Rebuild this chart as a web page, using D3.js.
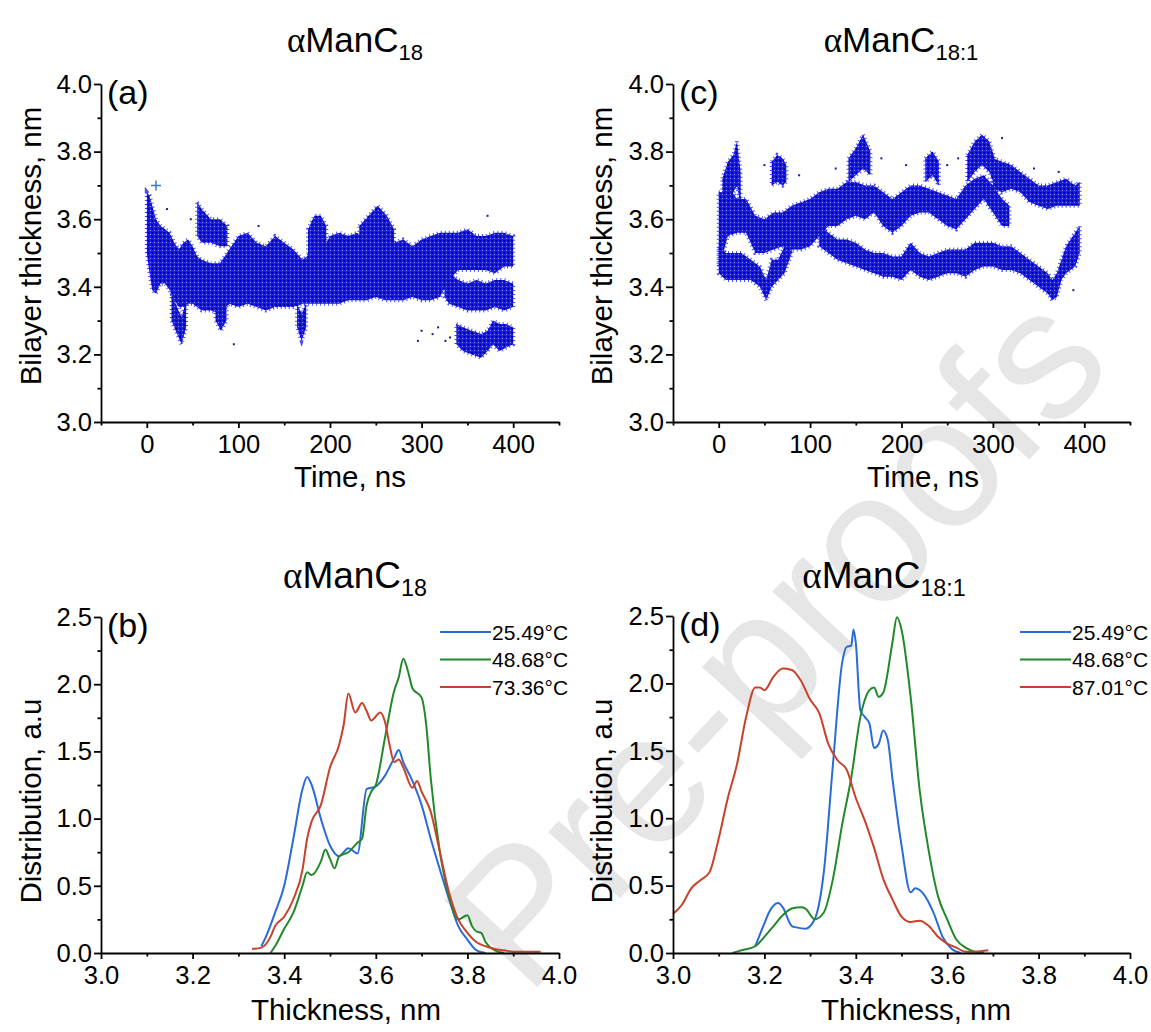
<!DOCTYPE html>
<html>
<head>
<meta charset="utf-8">
<script src="https://cdn.jsdelivr.net/npm/d3@7"></script>
<style>
  body { margin: 0; background: #fff; }
  text { font-family: "Liberation Sans", Arial, sans-serif; fill: #000; }
  .ax path, .ax line { stroke: #000; stroke-width: 1.8; }
  .ax text { font-size: 25.6px; font-family: "Liberation Sans", Arial, sans-serif; }
</style>
</head>
<body>
<svg id="chart" width="1151" height="1032"></svg>
<script>
// ---- panel (a): thickness vs time, bands of the point cloud [t, low, high]
var aMain = [[0,3.50,3.68],[3,3.44,3.67],[6,3.39,3.64],[10,3.38,3.60],[15,3.41,3.58],[20,3.41,3.57],
  [25,3.39,3.56],[30,3.36,3.53],[35,3.34,3.51],[40,3.34,3.53],[45,3.35,3.54],[50,3.35,3.52],[55,3.34,3.49],
  [60,3.33,3.48],[70,3.33,3.47],[80,3.32,3.47],[90,3.35,3.51],[100,3.34,3.55],[110,3.35,3.56],[120,3.34,3.53],
  [130,3.33,3.52],[140,3.34,3.55],[150,3.34,3.53],[160,3.34,3.51],[170,3.35,3.48],[180,3.35,3.50],[190,3.35,3.50],
  [200,3.35,3.55],[210,3.35,3.56],[220,3.36,3.55],[230,3.36,3.56],[240,3.36,3.53],[250,3.37,3.54],[260,3.36,3.55],
  [270,3.36,3.53],[280,3.36,3.54],[290,3.37,3.52],[300,3.36,3.54],[310,3.36,3.55],[320,3.37,3.56],[330,3.42,3.56],
  [340,3.45,3.56],[350,3.45,3.57],[360,3.45,3.55],[370,3.45,3.55],[380,3.44,3.56],[390,3.46,3.56],[400,3.46,3.55]];
var aMid = [[325,3.37,3.46],[330,3.35,3.44],[340,3.34,3.42],[350,3.33,3.41],[360,3.33,3.42],[370,3.33,3.41],
  [380,3.34,3.42],[390,3.33,3.42],[400,3.34,3.41]];
var aLow = [[338,3.23,3.29],[345,3.21,3.28],[355,3.20,3.27],[365,3.19,3.26],[372,3.21,3.27],[378,3.23,3.30],
  [385,3.21,3.29],[392,3.22,3.29],[400,3.23,3.28]];
var aUp1 = [[55,3.55,3.65],[60,3.53,3.63],[70,3.53,3.60],[80,3.52,3.60],[88,3.52,3.58]];
var aUp2 = [[176,3.49,3.57],[183,3.50,3.61],[190,3.50,3.61],[196,3.48,3.58]];
var aUp3 = [[232,3.50,3.58],[242,3.52,3.61],[252,3.53,3.64],[262,3.52,3.61],[270,3.49,3.57]];
var aDip1 = [[27,3.30,3.38],[33,3.26,3.34],[38,3.23,3.31],[43,3.28,3.36]];
var aDip2 = [[75,3.30,3.37],[81,3.27,3.33],[87,3.30,3.36]];
var aDip3 = [[164,3.28,3.35],[169,3.24,3.32],[174,3.28,3.35]];
var aStray = [[95,3.23],[296,3.24],[300,3.27],[312,3.26],[318,3.28],[326,3.24],[331,3.25],[22,3.63],[48,3.60],[122,3.58],[372,3.61]];
var aCross = [[10,3.70]];

// ---- panel (c)
var cMid = [[0,3.46,3.68],[5,3.50,3.68],[10,3.55,3.70],[20,3.56,3.66],[30,3.56,3.66],[40,3.50,3.61],[50,3.50,3.60],
  [60,3.51,3.62],[70,3.52,3.62],[80,3.51,3.64],[90,3.51,3.65],[100,3.52,3.66],[110,3.55,3.68],[120,3.58,3.69],
  [130,3.58,3.69],[140,3.60,3.71],[150,3.61,3.71],[160,3.60,3.70],[170,3.62,3.70],[180,3.58,3.68],[190,3.56,3.66],
  [200,3.58,3.68],[210,3.61,3.70],[220,3.62,3.70],[230,3.62,3.69],[240,3.60,3.68],[250,3.58,3.67],[260,3.57,3.66],
  [270,3.60,3.70],[280,3.63,3.72],[290,3.66,3.73],[300,3.62,3.70],[310,3.58,3.66],[318,3.58,3.64]];
var cUpper = [[300,3.69,3.78],[310,3.68,3.77],[320,3.69,3.76],[330,3.68,3.74],[340,3.65,3.72],[350,3.64,3.70],
  [360,3.63,3.70],[370,3.64,3.71],[380,3.64,3.72],[390,3.64,3.70],[395,3.64,3.71]];
var cPeak1 = [[4,3.60,3.72],[10,3.64,3.77],[16,3.68,3.79],[20,3.70,3.83],[24,3.64,3.74]];
var cPeak2 = [[58,3.70,3.77],[64,3.71,3.79],[70,3.70,3.78],[74,3.71,3.76]];
var cPeak3 = [[142,3.71,3.78],[150,3.73,3.81],[158,3.75,3.85],[166,3.73,3.80]];
var cPeak4 = [[226,3.71,3.78],[234,3.73,3.80],[241,3.70,3.77]];
var cPeak5 = [[272,3.71,3.79],[280,3.74,3.83],[288,3.76,3.85],[296,3.74,3.83],[302,3.70,3.78]];
var cLower1 = [[0,3.44,3.52],[8,3.42,3.50],[15,3.42,3.50],[25,3.42,3.50],[35,3.42,3.48],[45,3.40,3.46],
  [52,3.36,3.42],[58,3.40,3.48],[65,3.42,3.48],[72,3.44,3.52],[80,3.50,3.56]];
var cLower2 = [[110,3.52,3.58],[120,3.50,3.56],[130,3.48,3.54],[140,3.47,3.54],[150,3.46,3.53],[160,3.45,3.51],
  [170,3.44,3.50],[180,3.43,3.50],[190,3.43,3.49],[200,3.42,3.49],[210,3.45,3.53],[220,3.43,3.50],[230,3.42,3.49],
  [240,3.43,3.50],[250,3.44,3.51],[260,3.44,3.51],[270,3.43,3.51],[280,3.45,3.53],[290,3.46,3.53],[300,3.46,3.53],
  [310,3.45,3.52],[320,3.45,3.52],[330,3.44,3.50],[340,3.42,3.48],[350,3.40,3.46],[360,3.38,3.44],[365,3.36,3.42],
  [370,3.37,3.44],[375,3.42,3.48],[380,3.44,3.52],[390,3.46,3.56],[395,3.50,3.58]];
var cStray = [[50,3.76],[88,3.73],[128,3.75],[178,3.78],[205,3.76],[250,3.76],[262,3.78],[310,3.84],[345,3.75],[372,3.74],[388,3.39]];

// ---- panel (b): distributions [thickness, value]
var bBlue = [[3.35,0.05],[3.36,0.12],[3.38,0.30],[3.40,0.50],[3.42,0.85],[3.44,1.22],[3.45,1.31],[3.46,1.25],
  [3.48,1.00],[3.50,0.80],[3.52,0.72],[3.54,0.78],[3.56,0.74],[3.58,1.22],[3.60,1.24],[3.62,1.32],[3.64,1.45],
  [3.65,1.51],[3.66,1.42],[3.68,1.28],[3.70,1.10],[3.72,0.85],[3.74,0.62],[3.76,0.40],[3.78,0.20],[3.80,0.10],
  [3.82,0.02],[3.84,0.0]];
var bGreen = [[3.37,0.0],[3.38,0.05],[3.40,0.18],[3.42,0.30],[3.44,0.50],[3.45,0.60],[3.46,0.58],[3.48,0.68],
  [3.49,0.77],[3.50,0.70],[3.51,0.63],[3.52,0.72],[3.54,0.75],[3.56,0.82],[3.57,0.85],[3.58,1.10],[3.59,1.20],
  [3.60,1.25],[3.62,1.60],[3.64,1.95],[3.65,2.05],[3.66,2.19],[3.67,2.10],[3.68,1.97],[3.70,1.90],[3.71,1.70],
  [3.72,1.30],[3.74,0.75],[3.76,0.42],[3.78,0.25],[3.80,0.28],[3.81,0.20],[3.82,0.16],[3.83,0.15],[3.84,0.08],
  [3.86,0.02],[3.88,0.0]];
var bRed = [[3.33,0.03],[3.35,0.04],[3.37,0.12],[3.38,0.20],[3.40,0.27],[3.42,0.40],[3.44,0.62],[3.45,0.85],
  [3.46,0.98],[3.48,1.10],[3.50,1.38],[3.52,1.55],[3.53,1.70],[3.54,1.93],[3.555,1.79],[3.57,1.86],[3.58,1.80],
  [3.59,1.73],[3.61,1.79],[3.62,1.72],[3.63,1.55],[3.64,1.42],[3.65,1.44],[3.66,1.38],[3.68,1.23],[3.69,1.28],
  [3.70,1.20],[3.72,1.05],[3.74,0.75],[3.76,0.45],[3.78,0.25],[3.80,0.15],[3.82,0.08],[3.84,0.05],[3.86,0.03],
  [3.88,0.02],[3.90,0.01],[3.96,0.01]];
var bLabels = ["25.49°C", "48.68°C", "73.36°C"];

// ---- panel (d)
var dBlue = [[3.18,0.05],[3.20,0.22],[3.21,0.30],[3.23,0.37],[3.24,0.34],[3.26,0.20],[3.27,0.19],[3.29,0.18],
  [3.31,0.25],[3.33,0.60],[3.35,1.40],[3.37,2.15],[3.38,2.27],[3.39,2.28],[3.395,2.40],[3.40,2.30],[3.41,1.80],
  [3.42,1.75],[3.43,1.70],[3.44,1.52],[3.45,1.55],[3.46,1.65],[3.47,1.58],[3.48,1.30],[3.50,0.80],[3.52,0.45],
  [3.53,0.48],[3.55,0.43],[3.57,0.30],[3.59,0.12],[3.61,0.03],[3.63,0.0]];
var dGreen = [[3.13,0.0],[3.15,0.02],[3.18,0.05],[3.20,0.12],[3.22,0.20],[3.24,0.28],[3.26,0.33],[3.28,0.34],
  [3.29,0.33],[3.31,0.25],[3.33,0.30],[3.35,0.55],[3.37,0.95],[3.39,1.30],[3.41,1.75],[3.43,1.95],[3.44,1.97],
  [3.45,1.90],[3.46,1.93],[3.48,2.30],[3.49,2.49],[3.50,2.40],[3.52,1.90],[3.54,1.20],[3.56,0.75],[3.58,0.42],
  [3.60,0.25],[3.62,0.10],[3.64,0.04],[3.66,0.01],[3.68,0.0]];
var dRed = [[3.00,0.29],[3.02,0.36],[3.04,0.48],[3.06,0.54],[3.08,0.60],[3.10,0.85],[3.12,1.15],[3.14,1.40],
  [3.16,1.75],[3.18,1.97],[3.19,1.97],[3.20,1.95],[3.22,2.05],[3.24,2.11],[3.26,2.10],[3.28,2.02],[3.30,1.88],
  [3.32,1.78],[3.34,1.55],[3.36,1.43],[3.38,1.36],[3.40,1.15],[3.42,0.98],[3.44,0.78],[3.46,0.55],[3.48,0.40],
  [3.50,0.27],[3.52,0.23],[3.54,0.24],[3.56,0.20],[3.58,0.12],[3.60,0.07],[3.62,0.04],[3.64,0.01],[3.66,0.01],
  [3.69,0.02]];
var dLabels = ["25.49°C", "48.68°C", "87.01°C"];

var timeMajor = [0, 100, 200, 300, 400], timeMinor = [-50, 50, 150, 250, 350, 450];
var thickMajor = [3.0, 3.2, 3.4, 3.6, 3.8, 4.0], thickMinor = [3.1, 3.3, 3.5, 3.7, 3.9];
var distMajor = [0, 0.5, 1.0, 1.5, 2.0, 2.5], distMinor = [0.25, 0.75, 1.25, 1.75, 2.25];

var colors = ["#2b6bd6", "#22892a", "#c8412b"];
var cloud = "#1212f5";

var svg = d3.select("#chart");

// speckled fill for the dense point clouds
var pat = svg.append("defs").append("pattern").attr("id", "speck")
  .attr("width", 4).attr("height", 4).attr("patternUnits", "userSpaceOnUse");
pat.append("rect").attr("width", 4).attr("height", 4).attr("fill", "#1818ff");
pat.append("rect").attr("x", 0).attr("y", 0).attr("width", 1).attr("height", 2).attr("fill", "#000090");
pat.append("rect").attr("x", 2).attr("y", 2).attr("width", 1).attr("height", 1).attr("fill", "#8a8aff");
pat.append("rect").attr("x", 3).attr("y", 0).attr("width", 1).attr("height", 1).attr("fill", "#00008a");

// watermark
svg.append("text")
  .attr("transform", "translate(527,998) rotate(-47)")
  .attr("font-size", 185)
  .style("fill", "#e6e6e6")
  .text("Pre-proofs");

function makePanel(box, xDom, yDom) {
  var x = d3.scaleLinear().domain(xDom).range([box.x0, box.x1]);
  var y = d3.scaleLinear().domain(yDom).range([box.y1, box.y0]);
  return {x: x, y: y, box: box, g: svg.append("g")};
}

function drawAxes(p, xMaj, xMin, yMaj, yMin, xFmt) {
  var b = p.box;
  p.g.append("g").attr("class", "ax").attr("transform", `translate(0,${b.y1})`)
    .call(d3.axisBottom(p.x).tickValues(xMin).tickSize(3.5).tickSizeOuter(0).tickFormat(""))
    .select(".domain").remove();
  p.g.append("g").attr("class", "ax").attr("transform", `translate(${b.x0},0)`)
    .call(d3.axisLeft(p.y).tickValues(yMin).tickSize(3.5).tickSizeOuter(0).tickFormat(""))
    .select(".domain").remove();
  p.g.append("g").attr("class", "ax").attr("transform", `translate(0,${b.y1})`)
    .call(d3.axisBottom(p.x).tickValues(xMaj).tickSize(6).tickSizeOuter(0).tickPadding(7).tickFormat(xFmt));
  p.g.append("g").attr("class", "ax").attr("transform", `translate(${b.x0},0)`)
    .call(d3.axisLeft(p.y).tickValues(yMaj).tickSize(7).tickSizeOuter(0).tickPadding(2).tickFormat(d3.format(".1f")));
  p.g.selectAll(".ax").attr("font-size", null).attr("font-family", null);
}

function title(cx, cy, size, sub) {
  var t = svg.append("text").attr("x", cx).attr("y", cy).attr("text-anchor", "middle").attr("font-size", size);
  t.append("tspan").style("font-family", "'Liberation Serif', serif").text("α");
  t.append("tspan").text("ManC");
  t.append("tspan").attr("font-size", size * 0.63).attr("dy", 8).text(sub);
}

function labels(p, letter, xTitle, yTitle, xt, yt) {
  var b = p.box;
  svg.append("text").attr("x", b.x0 + 6).attr("y", b.y0 + 20).attr("font-size", 34).text(letter);
  svg.append("text").attr("x", xt[0]).attr("y", xt[1]).attr("text-anchor", "middle").attr("font-size", 29.5).text(xTitle);
  svg.append("text").attr("transform", `translate(${yt[0]},${yt[1]}) rotate(-90)`)
    .attr("text-anchor", "middle").attr("font-size", 29.5).text(yTitle);
}

function drawCloud(p, bands, stray) {
  var area = d3.area()
    .x(d => p.x(d[0])).y0(d => p.y(d[1])).y1(d => p.y(d[2]))
    .curve(d3.curveLinear);
  // fuzzy outline of scattered points, then the dense core
  p.g.selectAll(null).data(bands).enter().append("path")
    .attr("d", area).attr("fill", "none")
    .attr("stroke", cloud).attr("stroke-width", 4).attr("stroke-dasharray", "1 3").attr("stroke-opacity", 0.75);
  p.g.selectAll(null).data(bands).enter().append("path")
    .attr("d", area).attr("fill", "url(#speck)");
  p.g.selectAll(null).data(stray).enter().append("rect")
    .attr("x", d => p.x(d[0]) - 1).attr("y", d => p.y(d[1]) - 1)
    .attr("width", 2).attr("height", 2).attr("fill", "#1a1a9a");
}

function drawCurves(p, series, names, legendX) {
  var line = d3.line().x(d => p.x(d[0])).y(d => p.y(d[1])).curve(d3.curveMonotoneX);
  p.g.selectAll(null).data(series).enter().append("path")
    .attr("d", line).attr("fill", "none")
    .attr("stroke", (d, i) => colors[i]).attr("stroke-width", 2);
  names.forEach(function (n, i) {
    var yy = 632 + i * 27.5;
    p.g.append("line").attr("x1", legendX).attr("x2", legendX + 51).attr("y1", yy).attr("y2", yy)
      .attr("stroke", colors[i]).attr("stroke-width", 2);
    p.g.append("text").attr("x", legendX + 52).attr("y", yy + 7.5).attr("font-size", 21).text(n);
  });
}

// (a)
var pa = makePanel({x0: 101, x1: 559, y0: 84, y1: 422}, [-50, 450], [3.0, 4.0]);
drawCloud(pa, [aMain, aMid, aLow, aUp1, aUp2, aUp3, aDip1, aDip2, aDip3], aStray);
pa.g.selectAll(null).data(aCross).enter().append("path")
  .attr("d", d => `M${pa.x(d[0]) - 5},${pa.y(d[1])}h10M${pa.x(d[0])},${pa.y(d[1]) - 5}v10`)
  .attr("stroke", "#3a7bd5").attr("stroke-width", 1.5);
drawAxes(pa, timeMajor, timeMinor, thickMajor, thickMinor, d3.format("d"));
labels(pa, "(a)", "Time, ns", "Bilayer thickness, nm", [350, 487], [41, 246]);
title(355, 52, 35, "18");

// (c)
var pc = makePanel({x0: 673, x1: 1130, y0: 84, y1: 422}, [-50, 450], [3.0, 4.0]);
drawCloud(pc, [cMid, cUpper, cPeak1, cPeak2, cPeak3, cPeak4, cPeak5, cLower1, cLower2], cStray);
drawAxes(pc, timeMajor, timeMinor, thickMajor, thickMinor, d3.format("d"));
labels(pc, "(c)", "Time, ns", "Bilayer thickness, nm", [923, 487], [612, 246]);
title(901, 52, 35, "18:1");

// (b)
var pb = makePanel({x0: 101, x1: 559, y0: 617, y1: 953}, [3.0, 4.0], [0, 2.5]);
drawCurves(pb, [bBlue, bGreen, bRed], bLabels, 440);
drawAxes(pb, thickMajor, thickMinor, distMajor, distMinor, d3.format(".1f"));
labels(pb, "(b)", "Thickness, nm", "Distribution, a.u", [346, 1020], [41, 801]);
title(355, 588, 37, "18");

// (d)
var pd = makePanel({x0: 673, x1: 1130, y0: 616, y1: 953}, [3.0, 4.0], [0, 2.5]);
drawCurves(pd, [dBlue, dGreen, dRed], dLabels, 1020);
drawAxes(pd, thickMajor, thickMinor, distMajor, distMinor, d3.format(".1f"));
labels(pd, "(d)", "Thickness, nm", "Distribution, a.u", [916, 1020], [612, 801]);
title(884, 588, 37, "18:1");
</script>
</body>
</html>
